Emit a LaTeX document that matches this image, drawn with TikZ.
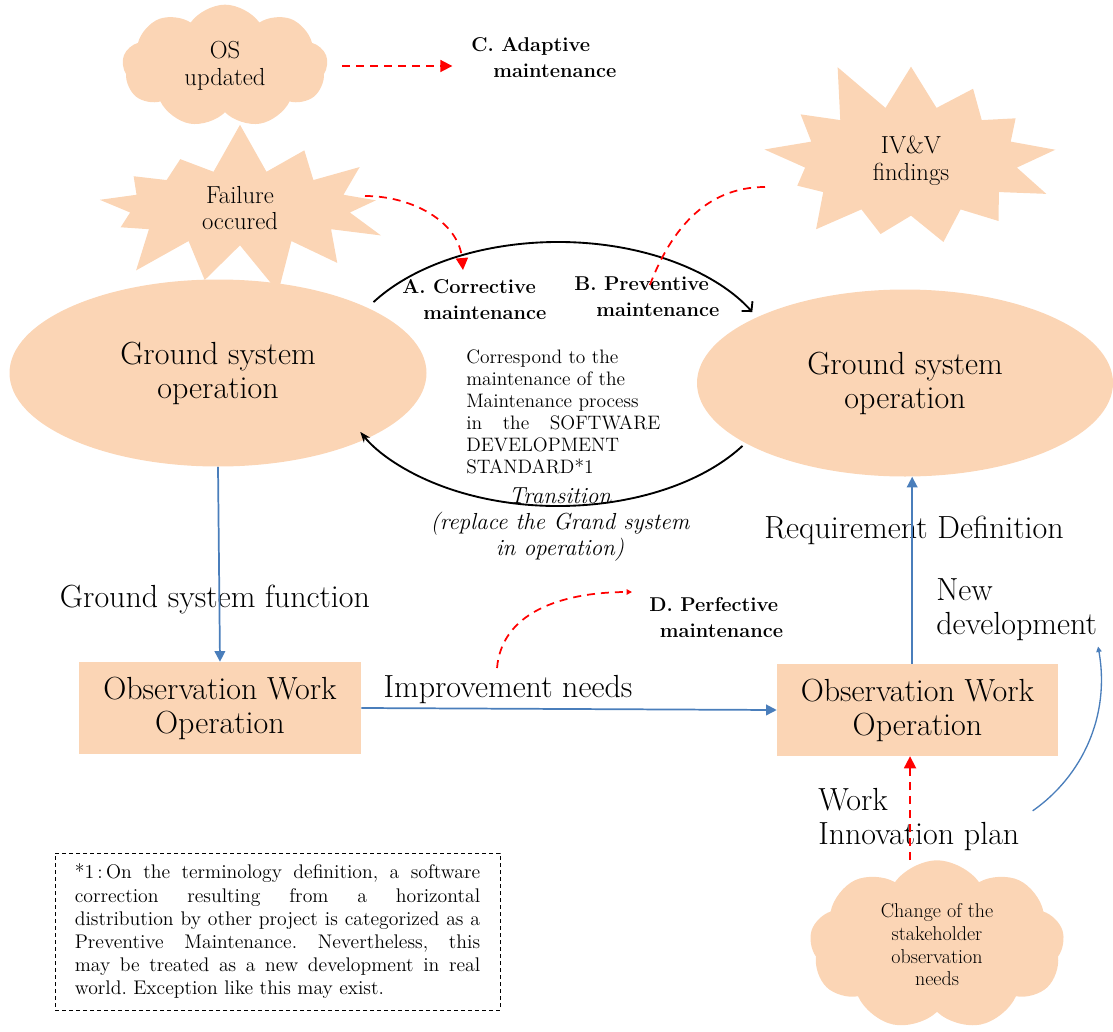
\documentclass[tikz,border=0pt]{standalone}
\usetikzlibrary{arrows.meta,shapes.geometric,shapes.symbols}
\definecolor{peach}{RGB}{251,213,181}
\definecolor{linkblue}{RGB}{74,126,187}

\begin{document}
\begin{tikzpicture}[x=0.75pt,y=-0.75pt,
  blob/.style={fill=peach, draw=none, inner sep=0pt, align=center},
  bigtxt/.style={font=\fontsize{24}{25.5}\selectfont},
  midtxt/.style={font=\fontsize{18.5}{20}\selectfont},
  kind/.style={font=\fontsize{15}{19.5}\selectfont\bfseries, align=left, anchor=west, inner sep=0pt},
  flow/.style={draw=linkblue, line width=1.3pt, -{Triangle[length=8pt,width=8pt]}},
  trigger/.style={draw=red, line width=1.3pt, dash pattern=on 6pt off 4.5pt, -{Triangle[length=9pt,width=9pt]}},
  loopline/.style={line width=1.4pt}
]
\useasboundingbox (0,0) rectangle (1113,1031);

% events
\node[blob, cloud, cloud puffs=9, cloud puff arc=110, cloud ignores aspect, minimum width=154pt, minimum height=92pt, midtxt] (osCloud) at (225,66) {OS\\updated};
\node[blob, starburst, starburst points=13, starburst point height=38pt, random starburst=7, minimum width=242pt, minimum height=132pt, midtxt] (failBurst) at (240,208) {Failure\\occured};
\node[blob, starburst, starburst points=13, starburst point height=40pt, random starburst=11, minimum width=240pt, minimum height=162pt, midtxt] (ivvBurst) at (911,161) {IV\&V\\findings};
\node[blob, cloud, cloud puffs=9, cloud puff arc=110, cloud ignores aspect, minimum width=191pt, minimum height=127pt, font=\fontsize{15}{17}\selectfont] (needCloud) at (937,945) {Change of the\\stakeholder\\observation\\needs};

% systems and work
\node[blob, ellipse, minimum width=312.75pt, minimum height=140.25pt, bigtxt] (gsLeft) at (218,373) {Ground system\\operation};
\node[blob, ellipse, minimum width=312pt, minimum height=140.25pt, bigtxt] (gsRight) at (905,383) {Ground system\\operation};
\node[blob, rectangle, minimum width=211.5pt, minimum height=69pt, bigtxt] (owLeft) at (220,708) {Observation Work\\Operation};
\node[blob, rectangle, minimum width=210.75pt, minimum height=69pt, bigtxt] (owRight) at (917.5,710) {Observation Work\\Operation};

% maintenance kinds
\node[kind] (adaptLbl) at (471,58) {C. Adaptive\\\hspace*{16.5pt}maintenance};
\node[kind] (corrLbl) at (402,300) {A. Corrective\\\hspace*{15.75pt}maintenance};
\node[kind] (prevLbl) at (574,297) {B. Preventive\\\hspace*{16.5pt}maintenance};
\node[kind] (perfLbl) at (649,618) {D. Perfective\\\hspace*{8pt}maintenance};

% maintenance cycle
\coordinate (cyc) at (558,374);
\draw[loopline, -{Straight Barb[length=5pt,width=11pt]}] ([shift={(147:165pt and 99pt)}]cyc) arc[start angle=147, end angle=28, x radius=165pt, y radius=99pt];
\draw[loopline, -{Stealth[length=8pt,width=6pt]}] ([shift={(-33:165pt and 99pt)}]cyc) arc[start angle=-33, end angle=-154, x radius=165pt, y radius=99pt];

\node[anchor=west, inner sep=0pt] (stdNote) at (466,412) {\parbox{145.5pt}{\fontsize{14.6}{16.5}\selectfont
Correspond to the\\maintenance of the\\Maintenance process\\\makebox[\linewidth][s]{in the SOFTWARE}\\DEVELOPMENT\\STANDARD*1}};
\node[font=\fontsize{17.4}{19.5}\selectfont\itshape, align=center, inner sep=0pt] (transLbl) at (560,525) {Transition\\(replace the Grand system\\in operation)};

% labels
\node[bigtxt, inner sep=0pt] (gsfLbl) at (215,600) {Ground system function};
\node[bigtxt, inner sep=0pt] (impLbl) at (508,690) {Improvement needs};
\node[bigtxt, inner sep=0pt] (reqLbl) at (914,530) {Requirement Definition};
\node[bigtxt, inner sep=0pt, align=left, anchor=west] (newDevLbl) at (936,610) {New\\development};
\node[bigtxt, inner sep=0pt, align=left, anchor=west] (innovLbl) at (818,820) {Work\\Innovation plan};

% free ends
\coordinate (corrTip) at (463,270);
\coordinate (prevTip) at (648,290);
\coordinate (perfFrom) at (497,668);
\coordinate (perfTip) at (632,592);

% triggers
\draw[trigger] (osCloud.east) -- (osCloud.east -| adaptLbl.west) [shorten <=11pt, shorten >=14pt];
\draw[trigger] ([xshift=93.75pt,yshift=9pt]failBurst.center) to[out=0,in=95] (corrTip);
\draw[trigger, -] ([xshift=-109.5pt,yshift=-19.5pt]ivvBurst.center) to[out=180,in=70] (prevTip);
\draw[trigger, -{Triangle[length=4pt,width=4pt]}] (perfFrom) to[out=85,in=180] (perfTip);
\draw[trigger] ([xshift=-5.6pt]needCloud.north -| owRight.south) -- ([xshift=-5.6pt]owRight.south);

% flows
\draw[flow] (gsLeft.south) -- (owLeft.north);
\draw[flow] (owLeft.east) -- (owRight.west);
\draw[flow] ([xshift=-4pt]owRight.north) -- ([xshift=-4pt]owRight.north |- gsRight.south);
\draw[draw=linkblue, line width=1pt, -{Triangle[length=4pt,width=4pt]}, shorten <=12pt, shorten >=4pt] (innovLbl.east) to[out=35,in=-80] (newDevLbl.south east);

% footnote
\node[draw, dash pattern=on 3pt off 2.25pt, line width=0.75pt, minimum width=333.75pt, minimum height=117.75pt, inner sep=0pt] (note) at (277.5,931.5) {\parbox{304pt}{\fontsize{14.8}{17.4}\selectfont\frenchspacing
\makebox[\linewidth][s]{*1\,:\,On the terminology definition, a software}\\
\makebox[\linewidth][s]{correction resulting from a horizontal}\\
\makebox[\linewidth][s]{distribution by other project is categorized as a}\\
\makebox[\linewidth][s]{Preventive Maintenance. Nevertheless, this}\\
\makebox[\linewidth][s]{may be treated as a new development in real}\\
world. Exception like this may exist.}};
\end{tikzpicture}
\end{document}
